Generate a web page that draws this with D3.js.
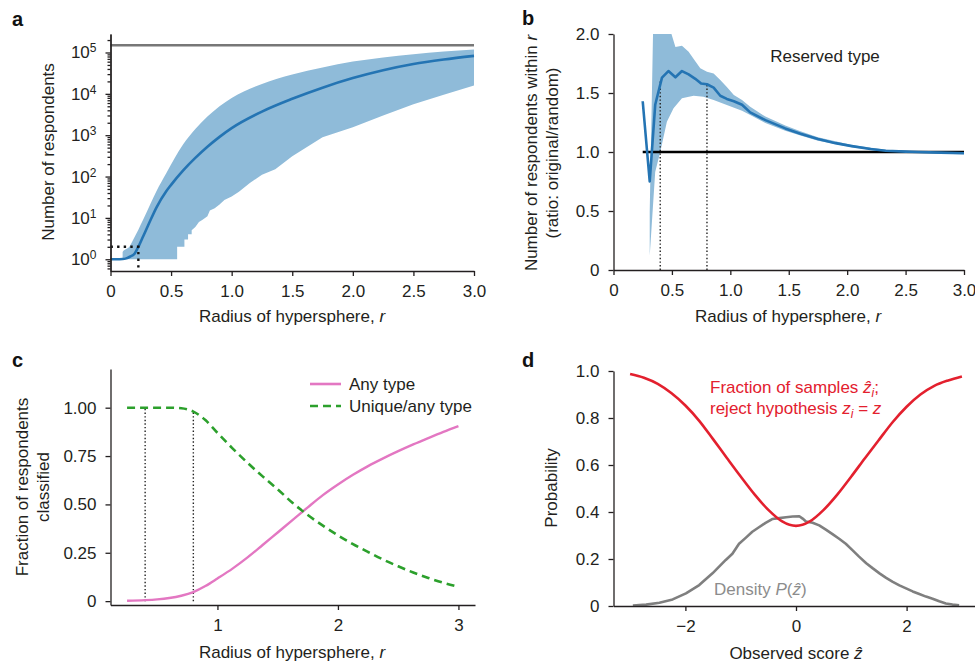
<!DOCTYPE html>
<html lang="en">
<head>
<meta charset="UTF-8" />
<title>Hypersphere panels</title>
<script src="https://cdn.jsdelivr.net/npm/d3@7/dist/d3.min.js"></script>
<style>
  body { margin: 0; background: #fff; }
  svg { font-family: "Liberation Sans", Arial, sans-serif; }
  .axis path, .axis line { stroke: #231f20; stroke-width: 1.3; }
  .axis text { font-size: 17px; fill: #231f20; font-family: "Liberation Sans", Arial, sans-serif; }
  .title { font-size: 17px; fill: #231f20; }
  .letter { font-size: 20px; font-weight: bold; fill: #111; }
</style>
</head>
<body>
<script>
// ---- panel a: number of respondents within r (log) ----
var aMeanR = [0, 0.05, 0.1, 0.13, 0.16, 0.2, 0.23, 0.27, 0.32, 0.38, 0.46, 0.5, 0.6, 0.7, 0.8, 0.9, 1.0, 1.25, 1.5, 1.75, 2.0, 2.25, 2.5, 2.75, 3.0];
var aMean = [1, 1, 1.01, 1.05, 1.15, 1.38, 2.0, 3.6, 7.6, 18, 44, 63, 141, 282, 525, 912, 1480, 3720, 7590, 14100, 24000, 37200, 52500, 67600, 83000];
var aUpR = [0.1, 0.1, 0.16, 0.185, 0.23, 0.27, 0.33, 0.38, 0.46, 0.53, 0.6, 0.7, 0.8, 0.9, 1.0, 1.25, 1.5, 1.75, 2.0, 2.25, 2.5, 2.75, 3.0];
var aUpV = [1, 1.5, 2.1, 2.9, 5.2, 9.1, 21.9, 44.7, 120, 282, 603, 1410, 2820, 5010, 7940, 17400, 29500, 43600, 60300, 75900, 91200, 105000, 117500];
var aLoR = [0.1, 0.55, 0.55, 0.61, 0.61, 0.64, 0.64, 0.67, 0.67, 0.7, 0.73, 0.76, 0.8, 0.82, 0.86, 0.9, 0.94, 1.0, 1.06, 1.15, 1.25, 1.36, 1.5, 1.75, 2.0, 2.25, 2.5, 2.75, 3.0];
var aLoV = [1, 1, 2, 2, 3, 3, 4, 4, 5, 6, 8, 9, 11, 15, 17, 21, 27, 33, 43, 70, 110, 150, 310, 890, 1550, 3000, 5600, 9500, 16000];
var aTotal = 150000;
var aGuide = [0.23, 2];

// ---- panel b: ratio original / random ----
var bMeanR = [0.25, 0.31, 0.357, 0.415, 0.47, 0.53, 0.586, 0.643, 0.7, 0.75, 0.8, 0.857, 0.914, 0.97, 1.03, 1.1, 1.17, 1.3, 1.47, 1.6, 1.75, 1.9, 2.04, 2.2, 2.33, 2.5, 2.61, 2.8, 3.0];
var bMean = [1.43, 0.75, 1.40, 1.63, 1.686, 1.633, 1.686, 1.658, 1.62, 1.58, 1.574, 1.545, 1.477, 1.45, 1.43, 1.40, 1.336, 1.27, 1.20, 1.155, 1.11, 1.075, 1.05, 1.025, 1.01, 1.003, 1.0, 0.995, 0.99];
var bHiR = [0.31, 0.357, 0.45, 0.49, 0.53, 0.586, 0.643, 0.7, 0.743, 0.8, 0.857, 0.914, 0.97, 1.03, 1.1, 1.17, 1.3, 1.47, 1.6, 1.75, 2.04, 2.33, 2.61, 3.0];
var bHiV = [0.5, 3.0, 2.4, 2.02, 1.89, 1.90, 1.85, 1.77, 1.71, 1.68, 1.665, 1.61, 1.55, 1.483, 1.44, 1.384, 1.30, 1.225, 1.175, 1.125, 1.06, 1.02, 1.005, 1.0];
var bLoR = [0.31, 0.357, 0.4, 0.457, 0.514, 0.586, 0.686, 0.77, 0.857, 0.97, 1.1, 1.17, 1.3, 1.47, 1.6, 1.75, 2.04, 2.33, 2.61, 3.0];
var bLoV = [0.12, 0.83, 1.0, 1.257, 1.37, 1.455, 1.477, 1.469, 1.44, 1.398, 1.35, 1.314, 1.245, 1.18, 1.14, 1.095, 1.04, 1.0, 0.99, 0.98];
var bGuideR = [0.4, 0.8];
var bGuideV = [1.6, 1.574];

// ---- panel c: fraction classified ----
var cR = [0.25, 0.4, 0.5, 0.6, 0.7, 0.8, 0.9, 1.0, 1.125, 1.25, 1.375, 1.5, 1.625, 1.75, 1.875, 2.0, 2.125, 2.25, 2.375, 2.5, 2.625, 2.75, 2.875, 3.0];
var cAny = [0.002, 0.005, 0.009, 0.016, 0.028, 0.047, 0.078, 0.117, 0.168, 0.226, 0.29, 0.355, 0.42, 0.485, 0.548, 0.603, 0.653, 0.698, 0.738, 0.775, 0.81, 0.843, 0.875, 0.905];
var cUnique = [1.0, 1.0, 1.0, 1.0, 0.997, 0.98, 0.936, 0.87, 0.79, 0.715, 0.645, 0.578, 0.507, 0.445, 0.39, 0.34, 0.295, 0.254, 0.215, 0.18, 0.148, 0.12, 0.095, 0.074];
var cGuideR = [0.4, 0.8];
var cGuideV = [1.0, 0.985];
var cLegend = ["Any type", "Unique/any type"];

// ---- panel d: probability vs observed score ----
var dRejZ = [-3, -2.75, -2.5, -2.25, -2, -1.75, -1.5, -1.25, -1, -0.75, -0.5, -0.25, 0, 0.25, 0.5, 0.75, 1, 1.25, 1.5, 1.75, 2, 2.25, 2.5, 2.75, 3];
var dReject = [0.987, 0.971, 0.945, 0.905, 0.853, 0.788, 0.71, 0.63, 0.551, 0.475, 0.409, 0.36, 0.341, 0.36, 0.409, 0.475, 0.551, 0.63, 0.707, 0.783, 0.848, 0.9, 0.937, 0.96, 0.977];
var dDenZ = [-2.95, -2.71, -2.47, -2.23, -1.99, -1.75, -1.51, -1.27, -1.15, -1.03, -0.91, -0.79, -0.67, -0.55, -0.43, -0.3, -0.18, -0.06, 0.06, 0.12, 0.18, 0.3, 0.42, 0.54, 0.66, 0.78, 0.9, 1.02, 1.14, 1.27, 1.39, 1.51, 1.63, 1.75, 1.87, 1.99, 2.11, 2.23, 2.35, 2.47, 2.59, 2.71, 2.83, 2.95];
var dDensity = [0.002, 0.006, 0.014, 0.028, 0.054, 0.089, 0.139, 0.196, 0.222, 0.265, 0.29, 0.316, 0.335, 0.354, 0.37, 0.374, 0.378, 0.381, 0.382, 0.372, 0.36, 0.354, 0.343, 0.325, 0.306, 0.286, 0.265, 0.238, 0.21, 0.182, 0.16, 0.139, 0.12, 0.103, 0.088, 0.075, 0.062, 0.051, 0.04, 0.031, 0.02, 0.011, 0.006, 0.003];

var blue = "#2474b3", band = "#8fbbd9", red = "#e3202e";

var svg = d3.select("body").append("svg")
  .attr("width", 975).attr("height", 663);

function zip(a, b) { return a.map(function(v, i) { return [v, b[i]]; }); }

// shaded band: smooth top edge, straight (stepped) bottom edge back to the start
function bandPath(line, up, lo, smooth) {
  var top = line.curve(smooth ? d3.curveMonotoneX : d3.curveLinear)(up);
  var bottom = line.curve(d3.curveLinear)(lo.slice().reverse());
  return top + "L" + bottom.slice(1) + "Z";
}

function xTitle(x, y, main, it) {
  var t = svg.append("text").attr("class", "title").attr("x", x).attr("y", y).attr("text-anchor", "middle");
  t.append("tspan").text(main);
  if (it) t.append("tspan").attr("font-style", "italic").text(it);
  return t;
}

function letter(l, x, y) {
  svg.append("text").attr("class", "letter").attr("x", x).attr("y", y).text(l);
}

// ================= panel a =================
var ax = d3.scaleLinear().domain([0, 3]).range([110.5, 474]);
var ay = d3.scaleLog().domain([0.52, 2.8e5]).range([271, 34]);

svg.append("clipPath").attr("id", "clipA").append("rect")
  .attr("x", 110.5).attr("y", 34).attr("width", 364).attr("height", 237);

var aLine = d3.line().x(function(d) { return ax(d[0]); }).y(function(d) { return ay(d[1]); });
svg.append("path").attr("clip-path", "url(#clipA)")
  .attr("d", bandPath(aLine, zip(aUpR, aUpV), zip(aLoR, aLoV), true)).attr("fill", band);

svg.append("path").datum(zip(aMeanR, aMean))
  .attr("d", aLine.curve(d3.curveMonotoneX))
  .attr("fill", "none").attr("stroke", blue).attr("stroke-width", 2.6);
aLine.curve(d3.curveLinear);

svg.append("line")
  .attr("x1", ax(0)).attr("x2", ax(3)).attr("y1", ay(aTotal)).attr("y2", ay(aTotal))
  .attr("stroke", "#777").attr("stroke-width", 2.6);

svg.append("path")
  .attr("d", aLine([[0, aGuide[1]], [aGuide[0], aGuide[1]], [aGuide[0], 0.52]]))
  .attr("fill", "none").attr("stroke", "#111").attr("stroke-width", 2.4)
  .attr("stroke-dasharray", "2.4,4.2");

svg.append("g").attr("class", "axis").attr("transform", "translate(0,271)")
  .call(d3.axisBottom(ax).tickValues([0, 0.5, 1, 1.5, 2, 2.5, 3])
    .tickFormat(function(d) { return d === 0 ? "0" : d.toFixed(1); })
    .tickSize(5).tickPadding(9).tickSizeOuter(0));

var aMinor = [];
for (var e = -1; e <= 5; e++) {
  for (var k = 2; k <= 9; k++) {
    var v = k * Math.pow(10, e);
    if (v >= 0.52 && v <= 2.8e5) aMinor.push(v);
  }
}
svg.append("g").attr("class", "axis").attr("transform", "translate(110.5,0)")
  .call(d3.axisLeft(ay).tickValues(aMinor).tickFormat("").tickSize(3).tickSizeOuter(0));
var aYAxis = svg.append("g").attr("class", "axis").attr("transform", "translate(110.5,0)")
  .call(d3.axisLeft(ay).tickValues([1, 10, 100, 1000, 1e4, 1e5]).tickFormat("")
    .tickSize(5).tickPadding(9).tickSizeOuter(0));
aYAxis.selectAll(".tick text").each(function(d) {
  var t = d3.select(this);
  t.append("tspan").text("10");
  t.append("tspan").attr("dy", "-0.5em").attr("font-size", "12px").text(Math.round(Math.log10(d)));
});

xTitle(292, 322, "Radius of hypersphere, ", "r");
svg.append("text").attr("class", "title").attr("text-anchor", "middle")
  .attr("transform", "translate(54,152) rotate(-90)").text("Number of respondents");
letter("a", 12, 26);

// ================= panel b =================
var bx = d3.scaleLinear().domain([0, 3]).range([613.5, 964]);
var by = d3.scaleLinear().domain([0, 2]).range([270, 34]);

svg.append("clipPath").attr("id", "clipB").append("rect")
  .attr("x", 613.5).attr("y", 34).attr("width", 352).attr("height", 236);

var bLine = d3.line().x(function(d) { return bx(d[0]); }).y(function(d) { return by(d[1]); });
svg.append("path").attr("clip-path", "url(#clipB)")
  .attr("d", bandPath(bLine, zip(bHiR, bHiV), zip(bLoR, bLoV), false)).attr("fill", band);

bGuideR.forEach(function(r, i) {
  svg.append("line").attr("x1", bx(r)).attr("x2", bx(r))
    .attr("y1", by(0)).attr("y2", by(bGuideV[i]))
    .attr("stroke", "#222").attr("stroke-width", 1.4).attr("stroke-dasharray", "1.4,2.2");
});

svg.append("line").attr("x1", bx(0.25)).attr("x2", bx(3)).attr("y1", by(1)).attr("y2", by(1))
  .attr("stroke", "#000").attr("stroke-width", 2.6);

svg.append("path").attr("clip-path", "url(#clipB)").datum(zip(bMeanR, bMean))
  .attr("d", bLine.curve(d3.curveLinear)).attr("fill", "none").attr("stroke", blue).attr("stroke-width", 2.6)
  .attr("stroke-linejoin", "round");

svg.append("g").attr("class", "axis").attr("transform", "translate(0,270)")
  .call(d3.axisBottom(bx).tickValues([0, 0.5, 1, 1.5, 2, 2.5, 3])
    .tickFormat(function(d) { return d === 0 ? "0" : d.toFixed(1); })
    .tickSize(5).tickPadding(9).tickSizeOuter(0));
svg.append("g").attr("class", "axis").attr("transform", "translate(613.5,0)")
  .call(d3.axisLeft(by).tickValues([0, 0.5, 1, 1.5, 2])
    .tickFormat(function(d) { return d === 0 ? "0" : d.toFixed(1); })
    .tickSize(5).tickPadding(9).tickSizeOuter(0));

svg.append("text").attr("class", "title").attr("x", 825).attr("y", 62)
  .attr("text-anchor", "middle").text("Reserved type");

xTitle(788, 322, "Radius of hypersphere, ", "r");
var bYt = svg.append("text").attr("class", "title").attr("text-anchor", "middle")
  .attr("transform", "translate(537,153) rotate(-90)");
bYt.append("tspan").text("Number of respondents within ");
bYt.append("tspan").attr("font-style", "italic").text("r");
svg.append("text").attr("class", "title").attr("text-anchor", "middle")
  .attr("transform", "translate(557.5,153) rotate(-90)").text("(ratio: original/random)");
letter("b", 522, 25);

// ================= panel c =================
var cx = d3.scaleLinear().domain([0.1125, 3.1375]).range([110.5, 475]);
var cy = d3.scaleLinear().domain([-0.02, 1.2]).range([605, 369]);
var cLine = d3.line().x(function(d) { return cx(d[0]); }).y(function(d) { return cy(d[1]); })
  .curve(d3.curveMonotoneX);

cGuideR.forEach(function(r, i) {
  svg.append("line").attr("x1", cx(r)).attr("x2", cx(r))
    .attr("y1", cy(0)).attr("y2", cy(cGuideV[i]))
    .attr("stroke", "#222").attr("stroke-width", 1.4).attr("stroke-dasharray", "1.4,2.2");
});

svg.append("path").datum(zip(cR, cAny)).attr("d", cLine)
  .attr("fill", "none").attr("stroke", "#e377c2").attr("stroke-width", 2.4);
svg.append("path").datum(zip(cR, cUnique)).attr("d", cLine)
  .attr("fill", "none").attr("stroke", "#2ca02c").attr("stroke-width", 2.6)
  .attr("stroke-dasharray", "8,5");

svg.append("g").attr("class", "axis").attr("transform", "translate(0,605)")
  .call(d3.axisBottom(cx).tickValues([1, 2, 3]).tickFormat(d3.format("d"))
    .tickSize(5).tickPadding(9).tickSizeOuter(0));
svg.append("g").attr("class", "axis").attr("transform", "translate(110.5,0)")
  .call(d3.axisLeft(cy).tickValues([0, 0.25, 0.5, 0.75, 1])
    .tickFormat(function(d) { return d === 0 ? "0" : d.toFixed(2); })
    .tickSize(5).tickPadding(9).tickSizeOuter(0));

var cLeg = svg.append("g").attr("transform", "translate(310,389)");
cLegend.forEach(function(name, i) {
  var row = cLeg.append("g").attr("transform", "translate(0," + (i * 22) + ")");
  row.append("line").attr("x1", 0).attr("x2", 31).attr("y1", -5).attr("y2", -5)
    .attr("stroke", i === 0 ? "#e377c2" : "#2ca02c").attr("stroke-width", 2.6)
    .attr("stroke-dasharray", i === 0 ? null : "8,5");
  row.append("text").attr("class", "title").attr("x", 39).attr("y", 1).text(name);
});

xTitle(292, 658, "Radius of hypersphere, ", "r");
svg.append("text").attr("class", "title").attr("text-anchor", "middle")
  .attr("transform", "translate(27.5,487) rotate(-90)").text("Fraction of respondents");
svg.append("text").attr("class", "title").attr("text-anchor", "middle")
  .attr("transform", "translate(48.5,487) rotate(-90)").text("classified");
letter("c", 12, 367);

// ================= panel d =================
var dx = d3.scaleLinear().domain([-3.3, 3.3]).range([613.5, 978.5]);
var dy = d3.scaleLinear().domain([0, 1]).range([606, 371]);
var dLine = d3.line().x(function(d) { return dx(d[0]); }).y(function(d) { return dy(d[1]); });

svg.append("path").datum(zip(dDenZ, dDensity)).attr("d", dLine)
  .attr("fill", "none").attr("stroke", "#7f7f7f").attr("stroke-width", 2.6)
  .attr("stroke-linejoin", "round");
svg.append("path").datum(zip(dRejZ, dReject)).attr("d", dLine.curve(d3.curveMonotoneX))
  .attr("fill", "none").attr("stroke", red).attr("stroke-width", 2.6);

svg.append("g").attr("class", "axis").attr("transform", "translate(0,606)")
  .call(d3.axisBottom(dx).tickValues([-2, 0, 2])
    .tickFormat(function(d) { return d < 0 ? "\u2212" + Math.abs(d) : String(d); })
    .tickSize(5).tickPadding(9).tickSizeOuter(0));
svg.append("g").attr("class", "axis").attr("transform", "translate(613.5,0)")
  .call(d3.axisLeft(dy).tickValues([0, 0.2, 0.4, 0.6, 0.8, 1])
    .tickFormat(function(d) { return d === 0 ? "0" : d.toFixed(1); })
    .tickSize(5).tickPadding(9).tickSizeOuter(0));

var t1 = svg.append("text").attr("class", "title").attr("x", 710).attr("y", 393).style("fill", red);
t1.append("tspan").text("Fraction of samples ");
t1.append("tspan").attr("font-style", "italic").text("\u1E91");
t1.append("tspan").attr("font-style", "italic").attr("font-size", "12px").attr("dy", "4").text("i");
t1.append("tspan").attr("dy", "-4").text(";");
var t2 = svg.append("text").attr("class", "title").attr("x", 710).attr("y", 414).style("fill", red);
t2.append("tspan").text("reject hypothesis ");
t2.append("tspan").attr("font-style", "italic").text("z");
t2.append("tspan").attr("font-style", "italic").attr("font-size", "12px").attr("dy", "4").text("i");
t2.append("tspan").attr("dy", "-4").text(" = ");
t2.append("tspan").attr("font-style", "italic").text("z");

var t3 = svg.append("text").attr("class", "title").attr("x", 714).attr("y", 595).style("fill", "#8c8c8c");
t3.append("tspan").text("Density ");
t3.append("tspan").attr("font-style", "italic").text("P");
t3.append("tspan").text("(");
t3.append("tspan").attr("font-style", "italic").text("\u1E91");
t3.append("tspan").text(")");

xTitle(796, 659, "Observed score ", "\u1E91");
svg.append("text").attr("class", "title").attr("text-anchor", "middle")
  .attr("transform", "translate(557,488) rotate(-90)").text("Probability");
letter("d", 522, 367);
</script>
</body>
</html>
